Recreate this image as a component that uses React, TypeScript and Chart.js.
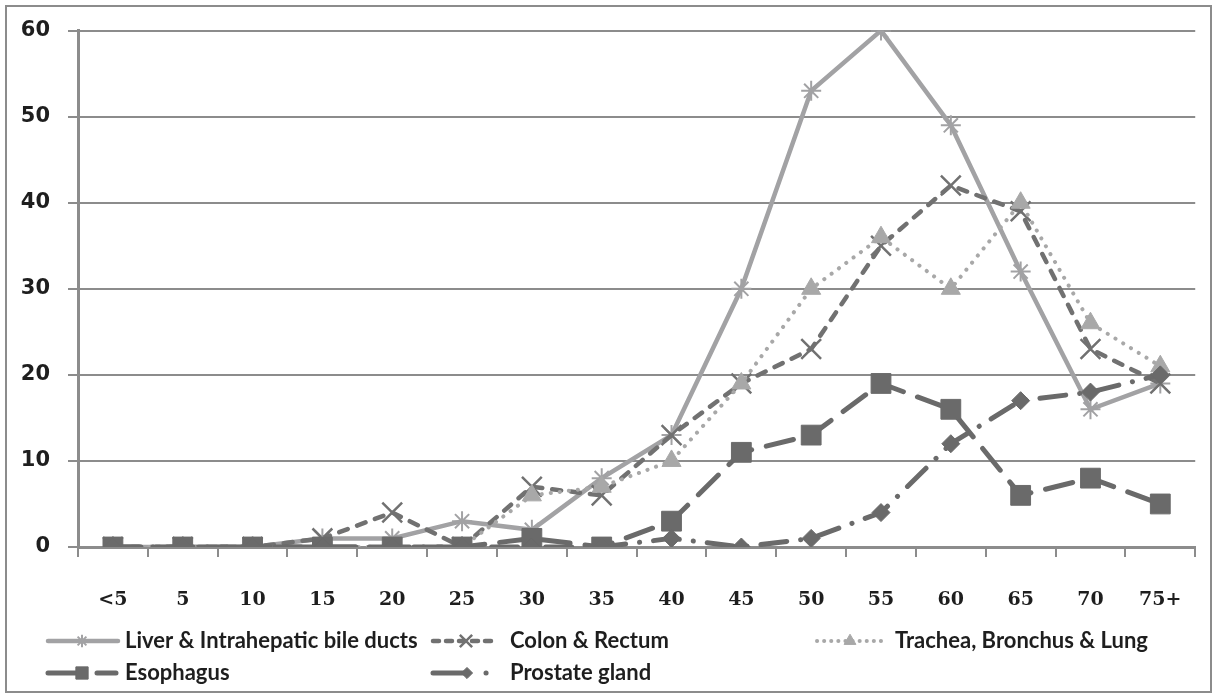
import React, { useEffect, useRef } from 'react';
import { Chart, registerables } from 'chart.js';
import { drawPoint } from 'chart.js/helpers';

Chart.register(...registerables);

const ageGroups = ['<5', '5', '10', '15', '20', '25', '30', '35', '40', '45', '50', '55', '60', '65', '70', '75+'];
const liver = [0, 0, 0, 1, 1, 3, 2, 8, 13, 30, 53, 60, 49, 32, 16, 19];
const colon = [0, 0, 0, 1, 4, 0, 7, 6, 13, 19, 23, 35, 42, 39, 23, 19];
const trachea = [0, 0, 0, 0, 0, 0, 6, 7, 10, 19, 30, 36, 30, 40, 26, 21];
const esophagus = [0, 0, 0, 0, 0, 0, 1, 0, 3, 11, 13, 19, 16, 6, 8, 5];
const prostate = [0, 0, 0, 0, 0, 0, 0, 0, 1, 0, 1, 4, 12, 17, 18, 20];
const seriesNames = [
  'Liver & Intrahepatic bile ducts',
  'Colon & Rectum',
  'Trachea, Bronchus & Lung',
  'Esophagus',
  'Prostate gland',
];
const yMin = 0;
const yMax = 60;
const yStep = 10;

const LIGHT = '#a2a2a4';
const MID = '#717171';
const DARK = '#6a6a6a';

const legendSlots = [
  { x0: 48, x1: 118, mx: 82, tx: 125, y: 641 },
  { x0: 433, x1: 498, mx: 466, tx: 510, y: 641 },
  { x0: 817, x1: 883, mx: 850, tx: 895, y: 641 },
  { x0: 48, x1: 116, mx: 82, tx: 125, y: 673 },
  { x0: 433, x1: 487, mx: 467, tx: 510, y: 673 },
];

const framePlugin = {
  id: 'frame',
  beforeDraw(chart: any) {
    const ctx = chart.ctx;
    ctx.save();
    ctx.fillStyle = '#ffffff';
    ctx.fillRect(0, 0, chart.width, chart.height);
    ctx.strokeStyle = '#8c8c8c';
    ctx.lineWidth = 2;
    ctx.strokeRect(6, 6, 1205, 686);
    ctx.restore();
  },
};

const legendPlugin = {
  id: 'customLegend',
  afterDraw(chart: any) {
    const ctx = chart.ctx;
    chart.data.datasets.forEach((ds: any, i: number) => {
      const s = legendSlots[i];
      if (!s) return;
      ctx.save();
      ctx.strokeStyle = ds.borderColor;
      ctx.lineWidth = ds.borderWidth;
      ctx.lineCap = ds.borderCapStyle || 'butt';
      ctx.setLineDash(ds.legendDash || ds.borderDash || []);
      ctx.beginPath();
      ctx.moveTo(s.x0, s.y);
      ctx.lineTo(s.x1, s.y);
      ctx.stroke();
      ctx.setLineDash([]);
      ctx.lineCap = 'butt';
      ctx.lineWidth = ds.pointBorderWidth;
      ctx.fillStyle = ds.pointBackgroundColor;
      ctx.strokeStyle = ds.pointBorderColor;
      drawPoint(
        ctx,
        {
          pointStyle: ds.pointStyle,
          rotation: 0,
          radius: ds.pointRadius * 0.62,
          borderWidth: ds.pointBorderWidth,
        } as any,
        s.mx,
        s.y
      );
      ctx.fillStyle = '#1e1e1e';
      ctx.font = 'bold 22px Lato, "Open Sans", sans-serif';
      ctx.textBaseline = 'middle';
      ctx.textAlign = 'left';
      ctx.fillText(seriesNames[i], s.tx, s.y);
      ctx.restore();
    });
  },
};

export default function App() {
  const canvasRef = useRef<HTMLCanvasElement | null>(null);

  useEffect(() => {
    const canvas = canvasRef.current;
    if (!canvas) return;
    const chart = new Chart(canvas, {
      type: 'line',
      data: {
        labels: ageGroups,
        datasets: [
          {
            label: seriesNames[0],
            data: liver,
            borderColor: LIGHT,
            borderWidth: 4.5,
            borderCapStyle: 'round',
            pointStyle: 'star',
            pointRadius: 10,
            pointBorderWidth: 2,
            pointBackgroundColor: LIGHT,
            pointBorderColor: LIGHT,
            order: 5,
          } as any,
          {
            label: seriesNames[1],
            data: colon,
            borderColor: MID,
            borderWidth: 4.5,
            borderDash: [9, 10],
            borderCapStyle: 'round',
            pointStyle: 'crossRot',
            pointRadius: 14,
            pointBorderWidth: 2.5,
            pointBackgroundColor: MID,
            pointBorderColor: MID,
            legendDash: [6, 7],
            order: 4,
          } as any,
          {
            label: seriesNames[2],
            data: trachea,
            borderColor: '#a8a8a8',
            borderWidth: 4,
            borderDash: [0.1, 9],
            borderCapStyle: 'round',
            pointStyle: 'triangle',
            pointRadius: 11,
            pointBorderWidth: 1,
            pointBackgroundColor: '#a8a8a8',
            pointBorderColor: '#a8a8a8',
            legendDash: [0.1, 7],
            order: 3,
          } as any,
          {
            label: seriesNames[3],
            data: esophagus,
            borderColor: DARK,
            borderWidth: 5,
            borderDash: [28, 15],
            borderCapStyle: 'round',
            pointStyle: 'rect',
            pointRadius: 14,
            pointBorderWidth: 1,
            pointBackgroundColor: DARK,
            pointBorderColor: DARK,
            legendDash: [28, 21],
            order: 2,
          } as any,
          {
            label: seriesNames[4],
            data: prostate,
            borderColor: DARK,
            borderWidth: 5,
            borderDash: [26, 14, 0.1, 14],
            borderCapStyle: 'round',
            pointStyle: 'rectRot',
            pointRadius: 9,
            pointBorderWidth: 1,
            pointBackgroundColor: DARK,
            pointBorderColor: DARK,
            legendDash: [34, 19, 0.1, 100],
            order: 1,
          } as any,
        ],
      },
      options: {
        responsive: false,
        animation: false,
        devicePixelRatio: 1,
        layout: { padding: { left: 18, right: 12, top: 27, bottom: 78 } },
        plugins: {
          legend: { display: false },
          tooltip: { enabled: false },
        },
        elements: { line: { tension: 0 } },
        scales: {
          x: {
            type: 'category',
            offset: true,
            grid: {
              offset: true,
              drawOnChartArea: false,
              drawTicks: true,
              tickLength: 10,
              color: '#8c8c8c',
              lineWidth: 2,
            },
            border: { display: true, color: '#8c8c8c', width: 3 },
            ticks: {
              color: '#1e1e1e',
              padding: 32,
              maxRotation: 0,
              autoSkip: false,
              font: { family: '"DejaVu Serif", serif', size: 19, weight: 'bold' },
            },
            afterFit: (scale: any) => {
              scale.height = 70;
            },
          },
          y: {
            min: yMin,
            max: yMax,
            grid: {
              color: '#8c8c8c',
              lineWidth: 2,
              drawTicks: true,
              tickLength: 10,
            },
            border: { display: true, color: '#8c8c8c', width: 3 },
            ticks: {
              stepSize: yStep,
              color: '#1e1e1e',
              padding: 18,
              font: { family: '"DejaVu Sans", sans-serif', size: 21, weight: 'bold' },
            },
            afterFit: (scale: any) => {
              scale.width = 60;
            },
          },
        },
      },
      plugins: [framePlugin, legendPlugin],
    });
    return () => chart.destroy();
  }, []);

  return (
    <div style={{ position: 'absolute', left: 0, top: 0, width: 1214, height: 695, background: '#fff' }}>
      <canvas ref={canvasRef} width={1214} height={695} />
    </div>
  );
}
